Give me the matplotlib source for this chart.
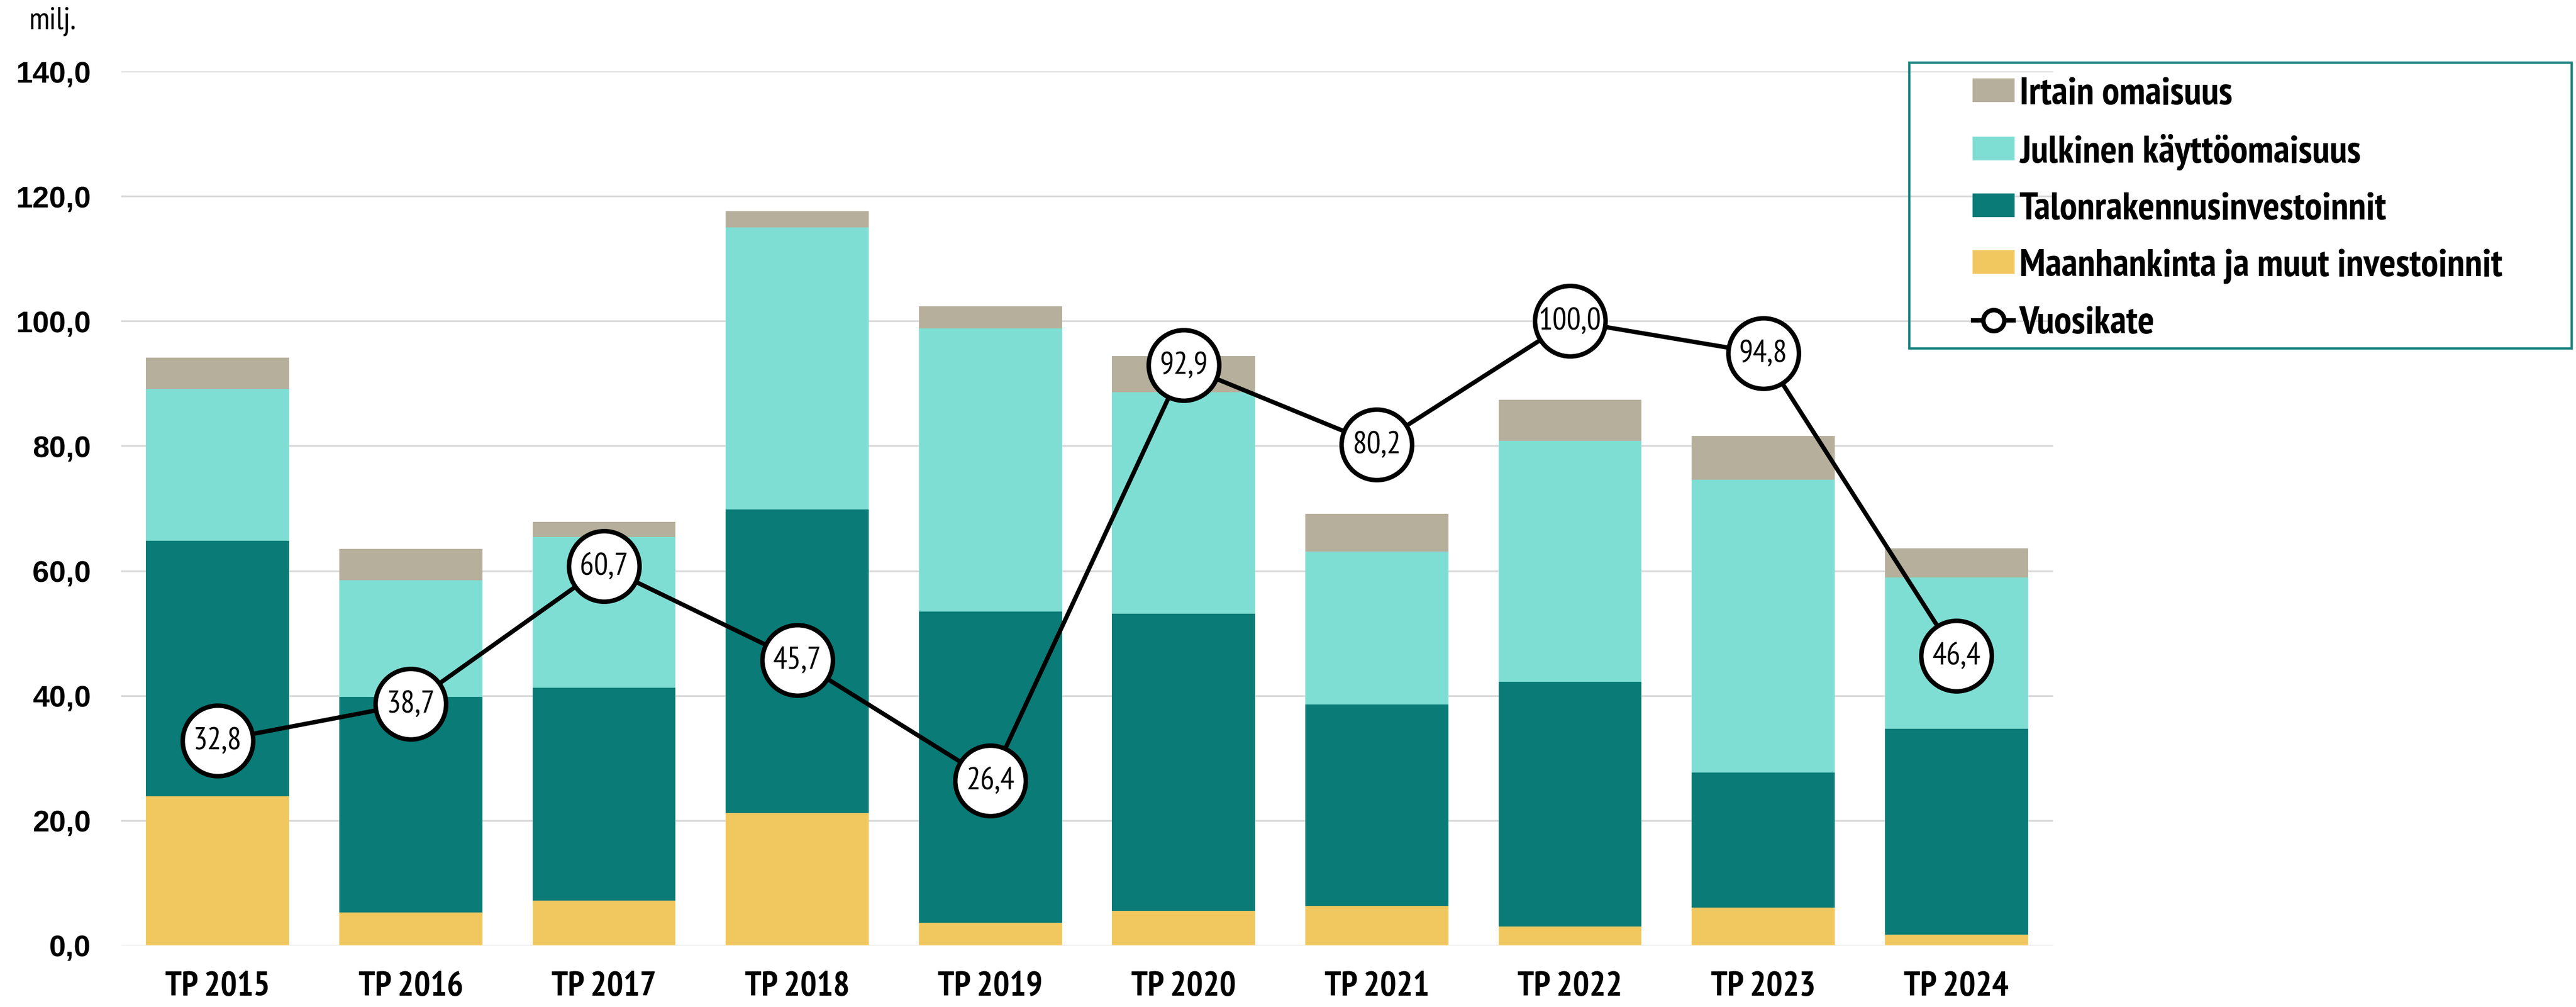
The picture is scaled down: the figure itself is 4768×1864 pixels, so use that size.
import matplotlib
matplotlib.use("Agg")
import matplotlib.pyplot as plt
from matplotlib import font_manager as fm
from matplotlib.lines import Line2D
from matplotlib.patches import Patch, Rectangle
from matplotlib.ticker import FuncFormatter
import numpy as np

# ---------------- data ----------------
categories = ["TP 2015", "TP 2016", "TP 2017", "TP 2018", "TP 2019",
              "TP 2020", "TP 2021", "TP 2022", "TP 2023", "TP 2024"]
maanhankinta = [23.9, 5.3, 7.2, 21.2, 3.6, 5.5, 6.3, 3.0, 6.1, 1.7]
talonrakennus = [40.9, 34.5, 34.1, 48.6, 49.9, 47.6, 32.3, 39.2, 21.6, 33.0]
julkinen = [24.3, 18.7, 24.1, 45.2, 45.3, 35.5, 24.5, 38.6, 46.9, 24.2]
irtain = [5.0, 5.0, 2.4, 2.6, 3.6, 5.8, 6.0, 6.6, 7.0, 4.7]
vuosikate = [32.8, 38.7, 60.7, 45.7, 26.4, 92.9, 80.2, 100.0, 94.8, 46.4]
y_ticks = [0, 20, 40, 60, 80, 100, 120, 140]
unit_label = "milj."
legend_labels = ["Irtain omaisuus", "Julkinen käyttöomaisuus",
                 "Talonrakennusinvestoinnit", "Maanhankinta ja muut investoinnit",
                 "Vuosikate"]

# ---------------- fonts ----------------
def _is_cond(f):
    st = f.stretch
    nl = f.name.lower()
    if "narrow" in nl or "condensed" in nl:
        return True
    if isinstance(st, str):
        return st in ("condensed", "semi-condensed", "extra-condensed", "ultra-condensed")
    try:
        return int(st) < 500
    except Exception:
        return False


def _is_bold(f):
    w = f.weight
    if isinstance(w, str):
        return w in ("bold", "semibold", "demibold", "heavy", "black", "extra bold")
    return w >= 600


cands = {}
for f in fm.fontManager.ttflist:
    n = f.name
    nl = n.lower()
    if any(k in nl for k in ("mono", "serif", "cjk", "math")):
        continue
    if _is_cond(f):
        d = cands.setdefault(n, {"stretch": f.stretch, "bold": False})
        if _is_bold(f):
            d["bold"] = True
            d["stretch"] = f.stretch


def _rank(n):
    nl = n.lower()
    order = ["narrow", "liberation", "roboto", "noto sans", "open sans", "lato", "dejavu"]
    for i, k in enumerate(order):
        if k in nl:
            return i
    return len(order)


good = sorted([n for n, d in cands.items() if d["bold"]], key=_rank)
if good:
    COND_FAMILY = [good[0], "DejaVu Sans"]
    COND_STRETCH = cands[good[0]]["stretch"]
    NSCALE = 1.0
else:
    COND_FAMILY = ["Liberation Sans", "DejaVu Sans"]
    COND_STRETCH = "normal"
    NSCALE = 0.85
SANS = ["Liberation Sans", "DejaVu Sans"]

# ---------------- style ----------------
C_IRTAIN = "#B5AF9B"
C_JULK = "#7FDED3"
C_TALO = "#0A7B76"
C_MAAN = "#F1C75F"
C_FRAME = "#1A8580"

W, H, DPI = 4768, 1865, 200
fig = plt.figure(figsize=(W / DPI, H / DPI), dpi=DPI)
ax = fig.add_axes([224 / W, 1 - 1751 / H, (3800 - 224) / W, (1751 - 133) / H])

x = np.arange(len(categories))
bw = 0.74
b1 = np.array(maanhankinta)
b2 = b1 + np.array(talonrakennus)
b3 = b2 + np.array(julkinen)

ax.bar(x, maanhankinta, bw, color=C_MAAN, zorder=2)
ax.bar(x, talonrakennus, bw, bottom=b1, color=C_TALO, zorder=2)
ax.bar(x, julkinen, bw, bottom=b2, color=C_JULK, zorder=2)
ax.bar(x, irtain, bw, bottom=b3, color=C_IRTAIN, zorder=2)

ax.plot(x, vuosikate, color="black", lw=2.9, marker="o", ms=47,
        mfc="white", mec="black", mew=3.0, zorder=4)
for xi, v in zip(x, vuosikate):
    ax.text(xi, v, f"{v:.1f}".replace(".", ","), ha="center", va="center",
            fontsize=21 * NSCALE, family=COND_FAMILY, fontstretch=COND_STRETCH,
            color="black", zorder=5)

ax.set_xlim(-0.5, len(categories) - 0.5)
ax.set_ylim(0, 140)
ax.set_yticks(y_ticks)
ax.yaxis.set_major_formatter(FuncFormatter(lambda v, p: f"{v:.1f}".replace(".", ",")))
ax.set_xticks(x)
ax.set_xticklabels(categories)
for lab in ax.get_xticklabels():
    lab.set_fontfamily(COND_FAMILY)
    lab.set_fontstretch(COND_STRETCH)
    lab.set_fontweight("bold")
    lab.set_fontsize(23 * NSCALE)
for lab in ax.get_yticklabels():
    lab.set_fontfamily(SANS)
    lab.set_fontweight("bold")
    lab.set_fontsize(20)
ax.tick_params(axis="both", length=0)
ax.tick_params(axis="x", pad=17)
ax.tick_params(axis="y", pad=20)
ax.grid(axis="y", color="#D9D9D9", lw=1.2, zorder=0)
ax.set_axisbelow(True)
for s in ax.spines.values():
    s.set_visible(False)

fig.text(97 / W, 1 - 40 / H, unit_label, ha="center", va="center",
         fontsize=21 * NSCALE, family=COND_FAMILY, fontstretch=COND_STRETCH)

# legend frame drawn in figure coords
fig.patches.append(Rectangle((3534 / W, 1 - 646 / H), (4760 - 3534) / W, (646 - 117) / H,
                             transform=fig.transFigure, fill=False,
                             edgecolor=C_FRAME, lw=1.6, zorder=10))
handles = [Patch(color=C_IRTAIN), Patch(color=C_JULK), Patch(color=C_TALO),
           Patch(color=C_MAAN),
           Line2D([], [], color="black", lw=2.9, marker="o", ms=14,
                  mfc="white", mec="black", mew=3.0)]
leg_fs = 26 * NSCALE
leg = fig.legend(handles, legend_labels, loc="upper left",
                 bbox_to_anchor=(3652 / W, 1 - 143 / H),
                 bbox_transform=fig.transFigure, frameon=False,
                 prop=fm.FontProperties(family=COND_FAMILY, weight="bold",
                                        stretch=COND_STRETCH, size=leg_fs),
                 handlelength=27.0 / leg_fs, handleheight=13.0 / leg_fs,
                 handletextpad=0.15,
                 labelspacing=0.565,
                 borderpad=0, borderaxespad=0)

fig.savefig("out.png", dpi=DPI, facecolor="white")
